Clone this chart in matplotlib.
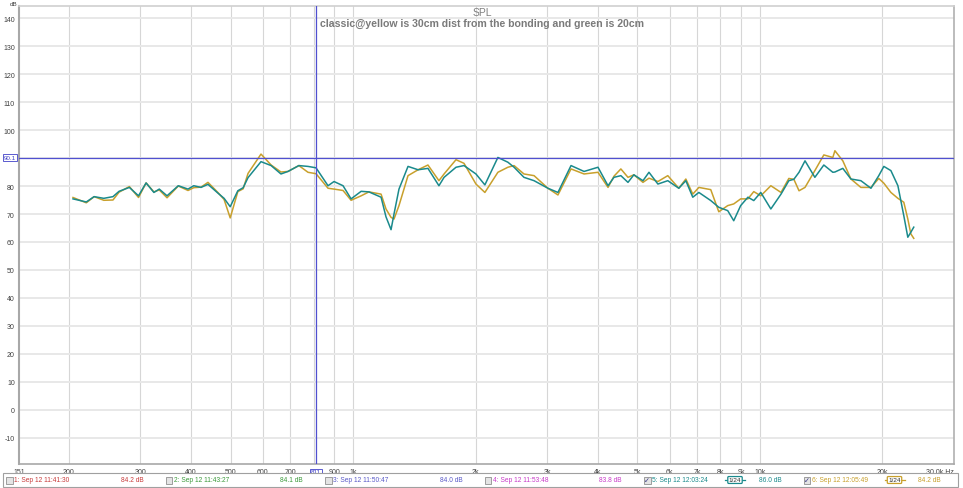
import matplotlib
matplotlib.use('Agg')
import matplotlib.pyplot as plt
from matplotlib.patches import Rectangle
import matplotlib.transforms as mtransforms

plt.rcParams['font.family'] = ['Liberation Sans', 'DejaVu Sans']

freq = [205, 221, 231, 244, 257, 266, 282, 297, 310, 324, 334, 349, 372, 393, 406, 423, 440,
        466, 482, 499, 521, 537, 552, 594, 629, 665, 692, 736, 775, 811, 868, 898, 945, 989,
        1047, 1094, 1172, 1205, 1240, 1261, 1297, 1365, 1445, 1528, 1626, 1674, 1791, 1874,
        2005, 2109, 2270, 2402, 2488, 2631, 2786, 3013, 3189, 3434, 3697, 4000, 4234, 4379,
        4553, 4740, 4901, 5160, 5338, 5615, 5938, 6320, 6577, 6840, 7080, 7573, 7925, 8336,
        8624, 8970, 9345, 9660, 10050, 10640, 11270, 11780, 12120, 12480, 12910, 13650,
        14360, 15110, 15290, 15990, 16740, 17710, 18750, 19600, 20170, 20990, 21840, 22580,
        23100, 23500, 23890]

spl_green = [75.4, 74.3, 76.2, 75.6, 76.2, 78.1, 79.5, 76.5, 81.1, 77.7, 78.9, 76.5, 80.1, 78.9,
             80.1, 79.5, 80.6, 77.4, 75.6, 72.6, 78.3, 79.4, 83.0, 88.7, 87.3, 84.3, 85.2, 87.3,
             87.0, 86.5, 80.1, 81.6, 80.1, 75.4, 78.1, 77.9, 76.0, 69.0, 64.4, 70.0, 78.9, 87.0,
             85.8, 86.3, 80.1, 83.1, 86.7, 87.3, 84.3, 80.4, 90.2, 88.5, 86.7, 83.1, 81.9, 79.2,
             77.7, 87.3, 85.2, 86.7, 80.1, 83.1, 83.7, 81.3, 84.0, 81.9, 84.9, 80.7, 81.9, 79.2,
             81.9, 76.0, 77.7, 74.8, 72.4, 71.2, 67.6, 73.0, 76.0, 74.8, 77.7, 71.8, 77.1, 81.9,
             82.4, 84.9, 89.0, 83.1, 87.5, 84.9, 85.0, 86.3, 82.5, 81.9, 79.2, 83.7, 87.0, 85.5,
             80.1, 69.4, 61.7, 63.5, 65.3]

spl_yellow = [75.9, 74.0, 76.2, 74.9, 75.0, 77.8, 79.8, 75.9, 81.1, 77.9, 78.6, 75.8, 80.0, 78.4,
              79.4, 79.6, 81.3, 77.6, 75.2, 68.6, 78.0, 79.0, 84.5, 91.4, 87.5, 85.0, 85.2, 87.3,
              84.9, 84.4, 79.2, 78.9, 78.4, 74.9, 76.5, 77.9, 77.1, 71.8, 68.8, 68.2, 73.0, 83.7,
              85.8, 87.5, 81.9, 84.3, 89.4, 88.1, 80.7, 77.7, 84.9, 86.7, 87.3, 84.3, 83.7, 79.2,
              76.8, 86.1, 84.3, 84.9, 79.5, 83.5, 86.1, 83.1, 84.0, 81.3, 82.8, 81.6, 83.7, 79.2,
              82.5, 77.1, 79.5, 78.7, 70.8, 73.0, 73.6, 75.4, 75.4, 78.0, 76.5, 80.1, 77.7, 82.7,
              82.4, 78.3, 79.5, 85.5, 91.1, 90.2, 92.6, 89.0, 82.5, 79.5, 79.5, 82.7, 81.0, 77.7,
              75.6, 74.2, 68.2, 62.9, 61.3]

x_ticks = [151, 200, 300, 400, 500, 600, 700, 800, 900, 1000, 2000, 3000, 4000, 5000,
           6000, 7000, 8000, 9000, 10000, 20000, 30000]
x_labels = ['151', '200', '300', '400', '500', '600', '700', '', '900', '1k', '2k', '3k',
            '4k', '5k', '6k', '7k', '8k', '9k', '10k', '20k', '30.0k Hz']
y_ticks = list(range(-10, 150, 10))

cursor_f = 811
cursor_db = 90.1

legend_items = [
    ('1: Sep 12 11:41:30', '84.2 dB', '#c83c3c', False),
    ('2: Sep 12 11:43:27', '84.1 dB', '#3c9a3c', False),
    ('3: Sep 12 11:50:47', '84.0 dB', '#5a5ac8', False),
    ('4: Sep 12 11:53:48', '83.8 dB', '#c83cc8', False),
    ('5: Sep 12 12:03:24', '86.0 dB', '#1a8a8c', True),
    ('6: Sep 12 12:05:49', '84.2 dB', '#c8a02c', True),
]

W, H = 963, 489
fig = plt.figure(figsize=(W / 100, H / 100), dpi=100)
ax = fig.add_axes([19 / W, 1 - 465 / H, (954 - 19) / W, (465 - 7) / H])

ax.set_xscale('log')
ax.set_xlim(151, 30000)
ax.set_ylim(-19.3, 144.3)

ax.set_xticks(x_ticks)
ax.set_xticklabels(x_labels)
ax.minorticks_off()
ax.set_yticks(y_ticks)
ax.set_yticklabels([str(v) if v != 90 else '' for v in y_ticks])
ax.tick_params(length=0, labelsize=5, colors='#404040', pad=3)
ax.get_xticklabels()[-1].set_horizontalalignment('right')

for f in x_ticks[1:-1]:
    ax.axvline(f, color='#d6d6d6', lw=0.8, zorder=0)
for v in y_ticks:
    ax.axhline(v, color='#e8e8e8', lw=1.4, zorder=0)

for side, c, w in [('left', '#a8a8a8', 1.5), ('bottom', '#a8a8a8', 1.2),
                   ('top', '#d0d0d0', 1.2), ('right', '#b0b0b0', 1.2)]:
    ax.spines[side].set_color(c)
    ax.spines[side].set_linewidth(w)

ax.plot(freq, spl_green, color='#1a8a8c', lw=1.1, zorder=3, solid_joinstyle='round')
ax.plot(freq, spl_yellow, color='#c8a02c', lw=1.1, zorder=2, solid_joinstyle='round')

# cursor
ax.axvline(cursor_f, color='#5050d0', lw=0.9, zorder=4)
ax.axhline(cursor_db, color='#5050d0', lw=0.9, zorder=4)
trans_y = mtransforms.blended_transform_factory(ax.transAxes, ax.transData)
ax.text(-0.003, cursor_db, '90.1', transform=trans_y, ha='right', va='center', fontsize=4.5,
        color='#4040c8', bbox=dict(boxstyle='square,pad=0.15', fc='white', ec='#4040c8', lw=0.6),
        clip_on=False)
trans_x = mtransforms.blended_transform_factory(ax.transData, ax.transAxes)
ax.text(cursor_f, -0.012, '811', transform=trans_x, ha='center', va='top', fontsize=4.5,
        color='#4040c8', bbox=dict(boxstyle='square,pad=0.15', fc='white', ec='#4040c8', lw=0.6),
        clip_on=False)

fig.text(10 / W, 1 - 4 / H, 'dB', fontsize=4.5, color='#404040', ha='left', va='center')
fig.text(482 / W, 1 - 13 / H, 'SPL', fontsize=7.5, color='#808080', ha='center', va='center')
fig.text(482 / W, 1 - 24 / H, 'classic@yellow is 30cm dist from the bonding and green is 20cm',
         fontsize=7.6, fontweight='bold', color='#7a7a7a', ha='center', va='center')

# legend bar
fig.patches.append(Rectangle((3 / W, 1 - 488 / H), 955 / W, 14 / H, transform=fig.transFigure,
                             fc='white', ec='#a0a0a0', lw=0.8))
yl = 1 - 481 / H
for i, (name, level, col, on) in enumerate(legend_items):
    x0 = 6 + i * 159.5
    fig.patches.append(Rectangle((x0 / W, 1 - 484.5 / H), 6.5 / W, 6.5 / H,
                                 transform=fig.transFigure, fc='#e4e4e4', ec='#909090', lw=0.6))
    if on:
        fig.text((x0 + 3.3) / W, yl, '✓', fontsize=5, color='#303080', ha='center', va='center',
                 family=['DejaVu Sans'])
    fig.text((x0 + 8) / W, yl, name, fontsize=4.8, color=col, ha='left', va='center')
    fig.text((x0 + 126) / W, yl, level, fontsize=4.8, color=col, ha='center', va='center')
    if on:
        xc = x0 + 91
        fig.lines.append(plt.Line2D([(xc - 10) / W, (xc + 10) / W], [yl, yl],
                                    transform=fig.transFigure, color=col, lw=0.9))
        fig.text(xc / W, yl, '1/24', fontsize=4.6, color='#303030', ha='center', va='center',
                 bbox=dict(boxstyle='round,pad=0.15', fc='white', ec=col, lw=0.9))

fig.savefig('out.png', dpi=100)
